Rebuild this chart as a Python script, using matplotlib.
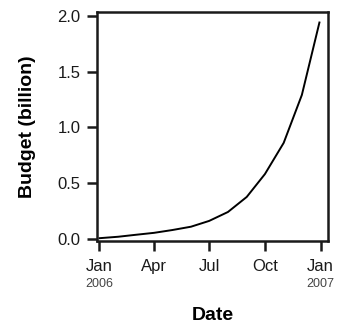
import numpy as np
import pandas as pd
import matplotlib
matplotlib.use("Agg")
import matplotlib.pyplot as plt
import matplotlib.dates as mdates
import matplotlib.transforms as mtrans

plt.rcParams["font.family"] = ["Liberation Sans", "DejaVu Sans"]

# --- data ---
dates = pd.to_datetime([
    "2006-01-01", "2006-02-01", "2006-03-01", "2006-04-01", "2006-05-01",
    "2006-06-01", "2006-07-01", "2006-08-01", "2006-09-01", "2006-10-01",
    "2006-11-01", "2006-12-01", "2006-12-30",
])
budget = [0.005, 0.018, 0.035, 0.053, 0.078, 0.108, 0.16, 0.24, 0.375,
          0.58, 0.86, 1.29, 1.94]
tick_dates = pd.to_datetime(["2006-01-01", "2006-04-01", "2006-07-01",
                             "2006-10-01", "2007-01-01"])
tick_labels = ["Jan", "Apr", "Jul", "Oct", "Jan"]
year_labels = {"2006-01-01": "2006", "2007-01-01": "2007"}
y_ticks = [0.0, 0.5, 1.0, 1.5, 2.0]

fig = plt.figure(figsize=(3.43, 3.28), dpi=100)
ax = fig.add_axes([0.283, 0.266, 0.673, 0.697])

ax.plot(dates, budget, color="black", linewidth=1.4)

ax.set_xlim(pd.Timestamp("2006-01-01") - pd.Timedelta(days=4),
            pd.Timestamp("2007-01-01") + pd.Timedelta(days=12))
ax.set_ylim(-0.018, 2.033)

ax.set_xticks(tick_dates)
ax.set_xticklabels(tick_labels)
ax.set_yticks(y_ticks)
ax.set_yticklabels([f"{v:.1f}" for v in y_ticks])

for s in ax.spines.values():
    s.set_linewidth(1.8)
    s.set_color("#1a1a1a")
ax.tick_params(length=7, width=1.8, color="#1a1a1a", labelsize=12,
               labelcolor="#1a1a1a", pad=5)
ax.tick_params(axis="x", pad=6)

trans = mtrans.blended_transform_factory(ax.transData, ax.transAxes)
for d, lab in year_labels.items():
    ax.text(mdates.date2num(pd.Timestamp(d)), -0.19, lab, transform=trans,
            ha="center", va="center", fontsize=9, color="#444444")

ax.set_xlabel("Date", fontsize=14, fontweight="bold", labelpad=24)
ax.set_ylabel("Budget (billion)", fontsize=14, fontweight="bold", labelpad=15)

fig.savefig("out.png", dpi=100)
